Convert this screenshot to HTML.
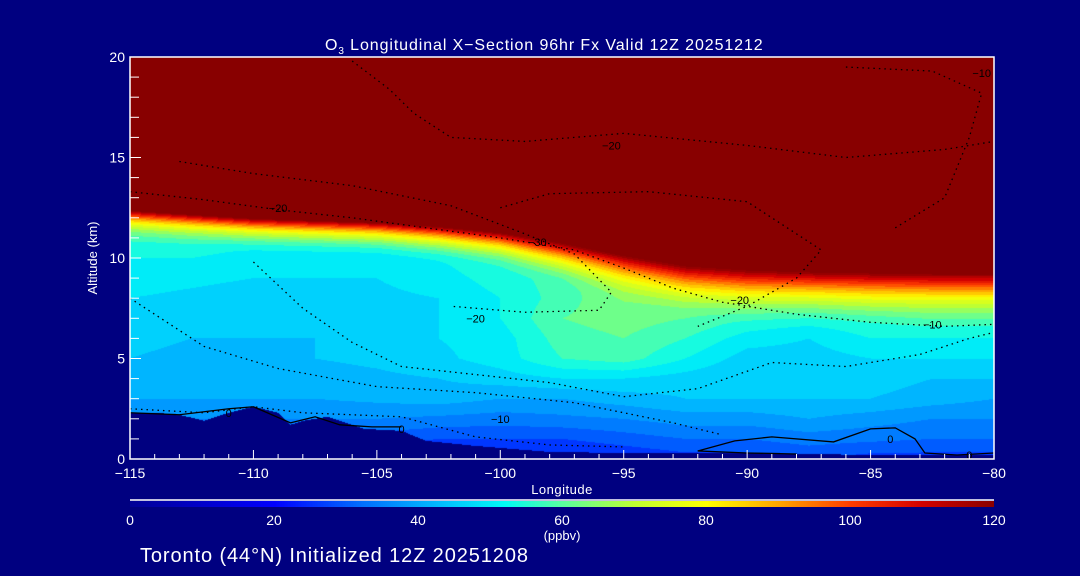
<!DOCTYPE html>
<html><head><meta charset="utf-8">
<style>
html,body{margin:0;padding:0;background:#000080;}
#wrap{position:relative;width:1080px;height:576px;background:#000080;overflow:hidden;font-family:"Liberation Sans",sans-serif;color:#fff;}
#field{position:absolute;left:130px;top:57px;}
svg{position:absolute;left:0;top:0;}
</style></head>
<body>
<div id="wrap">
<canvas id="field" width="864" height="402"></canvas>
<canvas id="cbar" width="864" height="6" style="position:absolute;left:130px;top:501px;"></canvas>
<svg id="ov" width="1080" height="576"></svg>
</div>
<script>
// ---- data ----
const lons = [-115,-112.5,-110,-107.5,-105,-102.5,-100,-97.5,-95,-92.5,-90,-87.5,-85,-82.5,-80];
const alts = [0,1,2,3,4,5,6,7,8,9,10,11];
// tropospheric ozone (ppbv), rows = alts, cols = lons
const o3Trop = [
 [22,22,22,22,22,22,22,22,24,26,26,28,26,26,26],
 [30,30,30,30,30,28,28,28,30,32,32,34,33,32,32],
 [36,36,36,36,36,35,34,35,36,38,38,40,38,36,36],
 [40,40,40,40,41,42,40,40,42,44,44,44,44,42,40],
 [42,42,42,42,43,44,46,48,48,46,44,46,46,44,44],
 [44,43,43,44,45,47,50,56,58,52,46,46,48,48,48],
 [45,44,44,44,46,48,50,58,60,56,50,48,52,52,52],
 [46,45,45,45,46,48,52,60,62,60,56,54,56,58,58],
 [48,47,46,46,47,48,52,58,64,64,62,60,62,62,62],
 [50,49,48,48,48,50,54,58,66,70,70,68,70,70,70],
 [52,52,50,50,50,52,56,62,72,80,80,80,80,80,80],
 [56,56,54,54,54,56,60,70,90,100,100,100,100,100,100]
];
const tropopause = [12.4,12.2,12.0,11.9,11.8,11.6,11.3,10.8,10.2,9.7,9.5,9.4,9.35,9.3,9.3];
const transWidth = [1.8,1.8,1.8,1.8,1.8,1.9,2.0,2.3,2.6,2.8,3.0,3.0,3.0,3.0,3.0];
const terrLons = [-115,-114,-113,-112,-111,-110,-109,-108.5,-108,-107,-106,-105.5,-104,-103,-101,-98,-95,-90,-85,-80];
const terrAlt  = [2.3,2.3,2.2,1.9,2.3,2.6,2.3,1.7,1.9,2.1,1.7,1.5,1.4,0.9,0.65,0.35,0.3,0.3,0.2,0.2];
const xTicks = [-115,-110,-105,-100,-95,-90,-85,-80];
const yTicks = [0,5,10,15,20];
const cbTicks = [0,20,40,60,80,100,120];

// ---- scales ----
const X0=130,X1=994,Y0=459,Y1=57;
const xs = lon => X0+(lon+115)/35*(X1-X0);
const ys = a => Y0-(a/20)*(Y0-Y1);

function interp1(arrX,arrY,x){
  if(x<=arrX[0])return arrY[0];
  for(let i=1;i<arrX.length;i++){ if(x<=arrX[i]){const t=(x-arrX[i-1])/(arrX[i]-arrX[i-1]);return arrY[i-1]+t*(arrY[i]-arrY[i-1]);} }
  return arrY[arrY.length-1];
}
function tropVal(lon,a){
  const fi=Math.max(0,Math.min(lons.length-1.0001,(lon+115)/2.5));
  const ai=Math.max(0,Math.min(alts.length-1.0001,a));
  const i=Math.floor(fi),j=Math.floor(ai),tx=fi-i,ty=ai-j;
  const v00=o3Trop[j][i],v01=o3Trop[j][i+1],v10=o3Trop[j+1][i],v11=o3Trop[j+1][i+1];
  return (v00*(1-tx)+v01*tx)*(1-ty)+(v10*(1-tx)+v11*tx)*ty;
}
function value(lon,a){
  const tp=interp1(lons,tropopause,lon), w=interp1(lons,transWidth,lon);
  const base=tropVal(lon,Math.min(a,11));
  if(a>=tp)return 130;
  const lo=tp-w;
  if(a<=lo)return base;
  const t=(a-lo)/w;
  return base+(125-base)*t*t*(0.6+0.4*t);
}
const cstops=[[0,[0,0,150]],[20,[0,0,255]],[32,[0,110,255]],[44,[0,195,255]],[52,[0,250,245]],[60,[90,255,160]],[70,[190,255,50]],[80,[255,255,0]],[90,[255,165,0]],[100,[255,60,0]],[110,[210,0,0]],[120,[136,0,0]]];
function cmap(v){
  v=Math.max(0,Math.min(120,v));
  for(let i=1;i<cstops.length;i++){ if(v<=cstops[i][0]){const a=cstops[i-1],b=cstops[i],t=(v-a[0])/(b[0]-a[0]);return [0,1,2].map(k=>Math.round(a[1][k]+t*(b[1][k]-a[1][k])));} }
  return cstops[cstops.length-1][1];
}
(function(){
  const c=document.getElementById('field'),ctx=c.getContext('2d');
  const W=c.width,H=c.height,img=ctx.createImageData(W,H);
  for(let py=0;py<H;py++){
    const a=(Y0-(Y1+py+0.5))/(Y0-Y1)*20;
    for(let px=0;px<W;px++){
      const lon=-115+(px+0.5)/(X1-X0)*35;
      let col;
      if(a<interp1(terrLons,terrAlt,lon)) col=[0,0,128];
      else { let v=value(lon,a); v=Math.floor(v/4)*4+2; col=cmap(v); }
      const k=(py*W+px)*4; img.data[k]=col[0];img.data[k+1]=col[1];img.data[k+2]=col[2];img.data[k+3]=255;
    }
  }
  ctx.putImageData(img,0,0);
  const cb=document.getElementById('cbar'),cx=cb.getContext('2d');
  for(let px=0;px<cb.width;px++){const c2=cmap(px/cb.width*120);cx.fillStyle=`rgb(${c2})`;cx.fillRect(px,0,1,6);}
})();
const NS='http://www.w3.org/2000/svg', ov=document.getElementById('ov');
function mk(tag,attrs,txt){const e=document.createElementNS(NS,tag);for(const k in attrs)e.setAttribute(k,attrs[k]);if(txt!==undefined)e.textContent=txt;ov.appendChild(e);return e;}
let e;
const dotted=[
 [[-115,13.3],[-112,12.9],[-109,12.4],[-106,12.0],[-103,11.5],[-100,11.0],[-97,10.4],[-95,9.5],[-93,8.5],[-91,7.8],[-88,7.2],[-85,6.8],[-82,6.6],[-80,6.7]],
 [[-113,14.8],[-110,14.2],[-106,13.6],[-102,12.6],[-99,11.2],[-97,10.2],[-95.5,8.3],[-96,7.4],[-99,7.3],[-102,7.6]],
 [[-110,9.8],[-108,7.5],[-106,5.8],[-104,4.6],[-101,4.2],[-98,3.8],[-95,3.1],[-92,3.5],[-89,4.8],[-86,4.6],[-83,5.2],[-81,6.0],[-80,6.3]],
 [[-115,8],[-112,5.6],[-109,4.5],[-105,3.6],[-101,3.3],[-97,2.8],[-93,1.8],[-91,1.2]],
 [[-106,19.8],[-104.5,18.4],[-103.5,17.2],[-102,16.0],[-99,15.8],[-95,16.2],[-90,15.6],[-86,15.0],[-82,15.4],[-80,15.8]],
 [[-100,12.5],[-98,13.2],[-94,13.3],[-90,12.8],[-88,11.2],[-87,10.4],[-88,9.0],[-90,7.6],[-92,6.6]],
 [[-86,19.5],[-82.5,19.3],[-80.5,18.2],[-81,16.0],[-82,13.0],[-84,11.5]],
 [[-115,2.5],[-112,2.3],[-110,2.6],[-108,2.3],[-106,2.2],[-104,2.1],[-101,1.1],[-98,0.7],[-95,0.6]]
];
dotted.forEach((pts,i)=>{
  e=mk('polyline',{points:pts.map(p=>xs(p[0])+','+ys(p[1])).join(' '),fill:'none',stroke:'#000','stroke-width':1.3,'stroke-dasharray':'1.5 4'});
  
  
});
const solid=[
 [[-115,2.3],[-113,2.2],[-111,2.5],[-110,2.6],[-108.5,1.8],[-107.5,2.1],[-106.5,1.7],[-105.2,1.6],[-104,1.6]],
 [[-92,0.4],[-90.5,0.9],[-89,1.1],[-86.5,0.85],[-85,1.5],[-84,1.55],[-83.2,1.0],[-82.8,0.3],[-81.5,0.2],[-80,0.3]],
 [[-92,0.4],[-90,0.3],[-88,0.25]]
];
solid.forEach((pts,i)=>{
  e=mk('polyline',{points:pts.map(p=>xs(p[0])+','+ys(p[1])).join(' '),fill:'none',stroke:'#000','stroke-width':1.3});
  
  
});
const clabels=[[-111,2.3,'0'],[-104,1.5,'0'],[-100,2.0,'-10'],[-109,12.5,'-20'],[-95.5,15.6,'-20'],[-98.5,10.8,'-30'],[-101,7.0,'-20'],[-80.5,19.2,'-10'],[-90.3,7.9,'-20'],[-82.5,6.7,'-10'],[-84.2,1.0,'0'],[-81,0.2,'0']];
clabels.forEach(l=>{
  e=mk('text',{x:xs(l[0]),y:ys(l[1])+4,fill:'#000','font-size':11,'text-anchor':'middle'},l[2].replace('-','\u2212'));
  
  
});
e=mk('rect',{x:X0,y:Y1,width:X1-X0,height:Y0-Y1,fill:'none',stroke:'#fff','stroke-width':1.5});


for(let l=-115;l<=-80;l++){
  const major=xTicks.includes(l);
  e=mk('line',{x1:xs(l),x2:xs(l),y1:Y0,y2:Y0-(major?9:5),stroke:'#fff','stroke-width':1});
  
  
}
xTicks.forEach(l=>{
  e=mk('text',{x:xs(l),y:478,fill:'#fff','font-size':14,'text-anchor':'middle'},String(l).replace('-','\u2212'));
  
  
});
for(let a=0;a<=20;a++){
  const major=yTicks.includes(a);
  e=mk('line',{x1:X0,x2:X0+(major?11:9),y1:ys(a),y2:ys(a),stroke:'#fff','stroke-width':1});
  
  
}
yTicks.forEach(a=>{
  e=mk('text',{x:125,y:ys(a)+5,fill:'#fff','font-size':14,'text-anchor':'end'},String(a));
  
  
});
e=mk('text',{x:562,y:494,fill:'#fff','font-size':13,'text-anchor':'middle','letter-spacing':'0.5'},'Longitude');


e=mk('text',{x:97,y:258,fill:'#fff','font-size':13,'text-anchor':'middle',transform:'rotate(-90 97 258)'},'Altitude (km)');


e=mk('text',{x:325,y:50,fill:'#fff','font-size':16,'letter-spacing':'0.9'});


e.innerHTML='O<tspan dy="4" font-size="10">3</tspan><tspan dy="-4"> Longitudinal X\u2212Section 96hr  Fx Valid 12Z 20251212</tspan>';
e=mk('line',{x1:X0,x2:X1,y1:500,y2:500,stroke:'#fff','stroke-width':1.5});


cbTicks.forEach(v=>{
  e=mk('text',{x:X0+v/120*(X1-X0),y:525,fill:'#fff','font-size':14,'text-anchor':'middle'},String(v));
  
  
});
e=mk('text',{x:562,y:540,fill:'#fff','font-size':13,'text-anchor':'middle'},'(ppbv)');


e=mk('text',{x:140,y:562,fill:'#fff','font-size':20,'letter-spacing':'0.9'},'Toronto (44\u00B0N) Initialized 12Z 20251208');


</script>
</body></html>
